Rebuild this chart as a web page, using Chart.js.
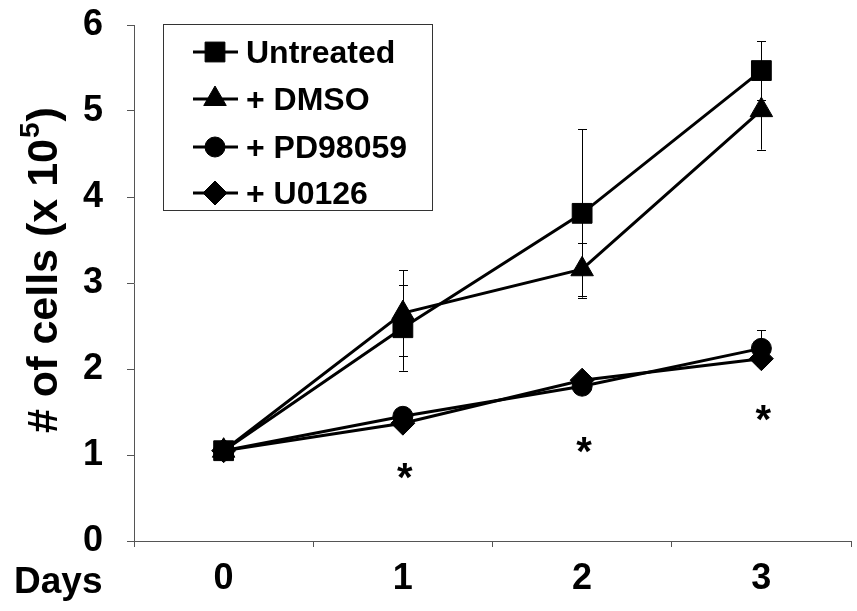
<!DOCTYPE html>
<html>
<head>
<meta charset="utf-8">
<script src="https://cdn.jsdelivr.net/npm/chart.js@4.4.1/dist/chart.umd.min.js"></script>
<style>
  html, body { margin: 0; padding: 0; background: #fff; }
  canvas { display: block; }
</style>
</head>
<body>
<canvas id="cellChart" width="857" height="611"></canvas>
<script>
const days = ["0", "1", "2", "3"];
const untreated = [1.05, 2.48, 3.81, 5.47];
const untreatedErr = [0, 0.5, 0.98, 0.34];
const dmso = [1.05, 2.65, 3.16, 5.01];
const dmsoErr = [0, 0.5, 0.31, 0.46];
const pd98059 = [1.05, 1.45, 1.8, 2.24];
const pd98059Err = [0, 0.05, 0.05, 0.21];
const u0126 = [1.05, 1.37, 1.87, 2.12];
const u0126Err = [0, 0.03, 0.03, 0.06];
const starValues = [null, 0.85, 1.15, 1.52]; // where the "*" marks sit
const yTicks = [0, 1, 2, 3, 4, 5, 6];

const FONT = "'Liberation Sans', Arial, sans-serif";

function series(label, values, errors, style, radius) {
  return {
    label: label,
    data: values,
    errors: errors,
    borderColor: "#000",
    backgroundColor: "#000",
    borderWidth: 3,
    tension: 0,
    pointStyle: style,
    pointRadius: radius,
    pointBackgroundColor: "#000",
    pointBorderColor: "#000",
    pointBorderWidth: 1,
  };
}

// error bars, drawn under the markers
const errorBars = {
  id: "errorBars",
  beforeDatasetsDraw(chart) {
    const ctx = chart.ctx;
    const x = chart.scales.x;
    const y = chart.scales.y;
    ctx.save();
    ctx.strokeStyle = "#000";
    ctx.lineWidth = 1;
    chart.data.datasets.forEach((ds) => {
      ds.data.forEach((v, i) => {
        const e = ds.errors[i];
        if (!e) return;
        const px = Math.round(x.getPixelForValue(i)) + 0.5;
        const top = y.getPixelForValue(v + e);
        const bot = y.getPixelForValue(v - e);
        ctx.beginPath();
        ctx.moveTo(px, top);
        ctx.lineTo(px, bot);
        ctx.moveTo(px - 4.5, Math.round(top) + 0.5);
        ctx.lineTo(px + 4.5, Math.round(top) + 0.5);
        ctx.moveTo(px - 4.5, Math.round(bot) + 0.5);
        ctx.lineTo(px + 4.5, Math.round(bot) + 0.5);
        ctx.stroke();
      });
    });
    ctx.restore();
  },
};

// legend box, axis titles and significance stars
const extras = {
  id: "extras",
  afterDraw(chart) {
    const ctx = chart.ctx;
    const x = chart.scales.x;
    const y = chart.scales.y;
    ctx.save();

    // stars
    ctx.fillStyle = "#000";
    ctx.font = "bold 40px " + FONT;
    ctx.textAlign = "center";
    ctx.textBaseline = "alphabetic";
    starValues.forEach((v, i) => {
      if (v == null) return;
      ctx.fillText("*", x.getPixelForValue(i) + 2, y.getPixelForValue(v) + 23);
    });

    // "Days"
    ctx.font = "bold 37px " + FONT;
    ctx.textAlign = "left";
    ctx.fillText("Days", 14, 593);

    // y title with superscript
    ctx.save();
    ctx.translate(57, 433);
    ctx.rotate(-Math.PI / 2);
    ctx.font = "bold 43px " + FONT;
    const main = "# of cells (x 10";
    ctx.fillText(main, 0, 0);
    let w = ctx.measureText(main).width;
    ctx.font = "bold 28px " + FONT;
    ctx.fillText("5", w + 1, -18);
    w += ctx.measureText("5").width + 2;
    ctx.font = "bold 43px " + FONT;
    ctx.fillText(")", w, 0);
    ctx.restore();

    // legend
    ctx.strokeStyle = "#333";
    ctx.lineWidth = 1;
    ctx.strokeRect(163.5, 24.5, 269, 186);
    const rowY = [52, 99, 147, 193];
    ctx.font = "bold 32px " + FONT;
    ctx.textBaseline = "middle";
    chart.data.datasets.forEach((ds, i) => {
      const ry = rowY[i];
      ctx.strokeStyle = "#000";
      ctx.lineWidth = 3;
      ctx.beginPath();
      ctx.moveTo(193, ry);
      ctx.lineTo(238, ry);
      ctx.stroke();
      ctx.lineWidth = 1;
      ctx.fillStyle = "#000";
      Chart.helpers.drawPoint(ctx, { pointStyle: ds.pointStyle, radius: ds.pointRadius, rotation: 0, borderWidth: 1 }, 215, ry);
      ctx.fillText(ds.label, 246, ry + 2);
    });
    ctx.restore();
  },
};

function noOverflow(scale) {
  scale.paddingTop = 0;
  scale.paddingBottom = 0;
  scale.paddingLeft = 0;
  scale.paddingRight = 0;
}

const config = {
  type: "line",
  data: {
    labels: days,
    datasets: [
      series("Untreated", untreated, untreatedErr, "rect", 14),
      series("+ DMSO", dmso, dmsoErr, "triangle", 13),
      series("+ PD98059", pd98059, pd98059Err, "circle", 10),
      series("+ U0126", u0126, u0126Err, "rectRot", 12),
    ],
  },
  options: {
    responsive: false,
    animation: false,
    layout: { autoPadding: false, padding: { top: 25, right: 6, left: 0, bottom: 0 } },
    plugins: {
      legend: { display: false },
      tooltip: { enabled: false },
    },
    scales: {
      x: {
        type: "category",
        offset: true,
        grid: { offset: true, drawOnChartArea: false, tickLength: 6, color: "#555" },
        border: { color: "#555", width: 1 },
        ticks: { color: "#000", padding: 10, font: { family: FONT, size: 36, weight: "bold" } },
        afterFit(scale) { scale.height = 70; noOverflow(scale); },
      },
      y: {
        min: 0,
        max: 6,
        afterBuildTicks(scale) { scale.ticks = yTicks.map((v) => ({ value: v })); },
        grid: { drawOnChartArea: false, tickLength: 7, color: "#555" },
        border: { color: "#555", width: 1 },
        ticks: { color: "#000", padding: 24, font: { family: FONT, size: 36, weight: "bold" } },
        afterFit(scale) { scale.width = 134; noOverflow(scale); },
      },
    },
  },
  plugins: [errorBars, extras],
};

const chart = new Chart(document.getElementById("cellChart").getContext("2d"), config);
</script>
</body>
</html>
